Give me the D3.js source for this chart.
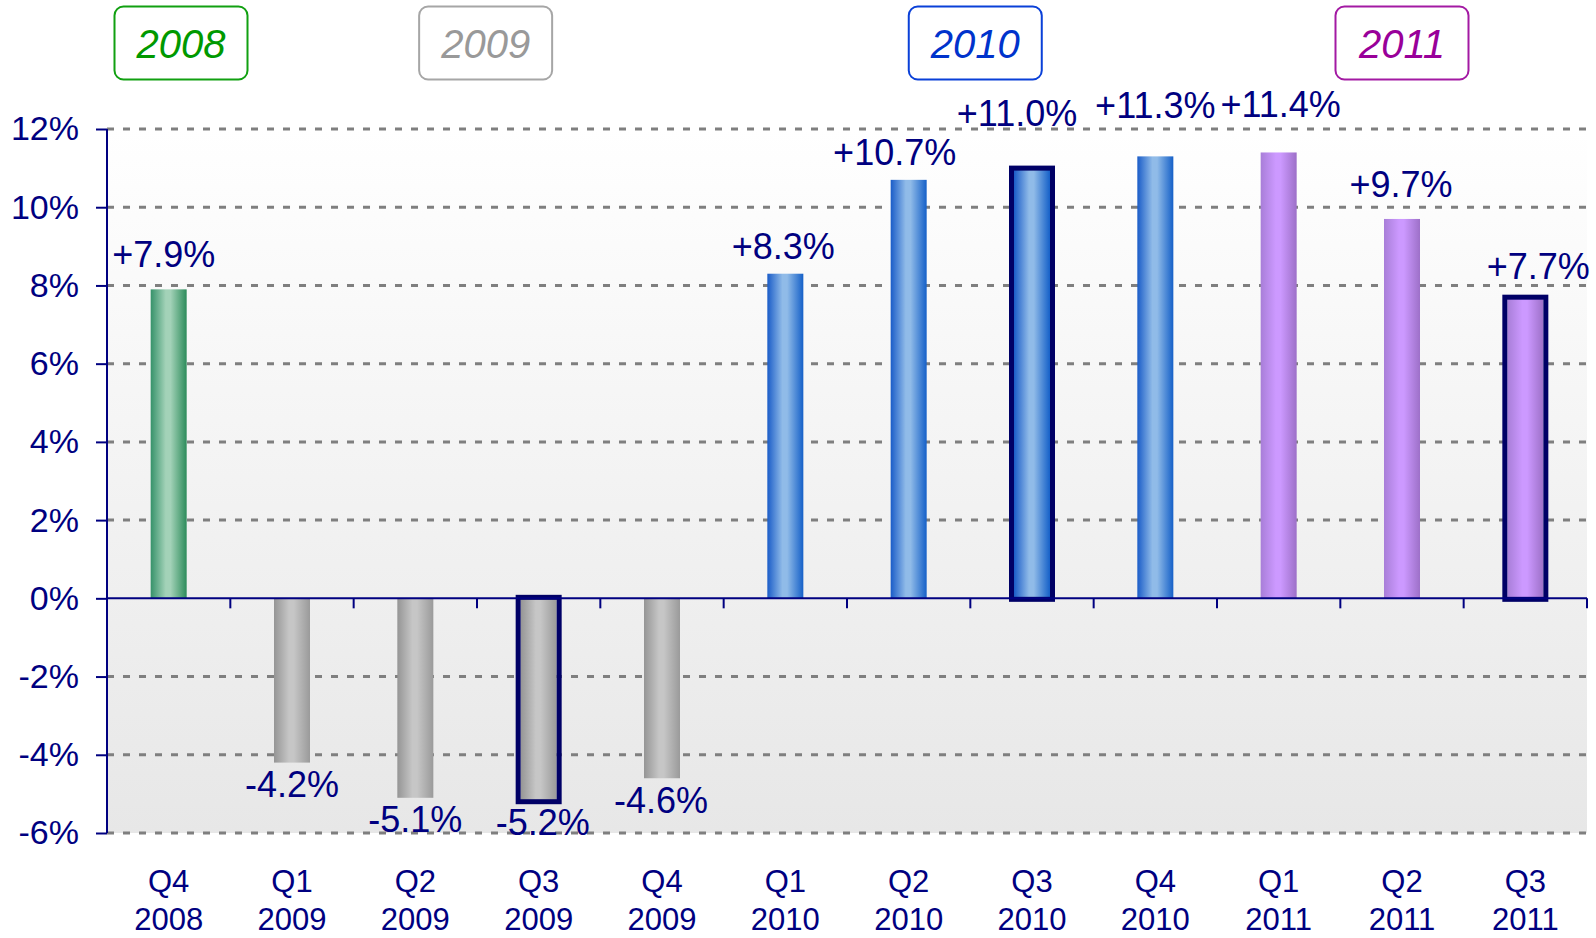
<!DOCTYPE html>
<html>
<head>
<meta charset="utf-8">
<script src="https://cdn.jsdelivr.net/npm/d3@7"></script>
<style>
    body { margin: 0; background: #fff; }
    svg { display: block; font-family: "Liberation Sans", Arial, sans-serif; }
</style>
</head>
<body>
<script>
// chart data
const quarters = ["Q4", "Q1", "Q2", "Q3", "Q4", "Q1", "Q2", "Q3", "Q4", "Q1", "Q2", "Q3"];
const years = ["2008", "2009", "2009", "2009", "2009", "2010", "2010", "2010", "2010", "2011", "2011", "2011"];
const growth = [7.9, -4.2, -5.1, -5.2, -4.6, 8.3, 10.7, 11.0, 11.3, 11.4, 9.7, 7.7];
const highlighted = [3, 7, 11];
const yTicks = [-6, -4, -2, 0, 2, 4, 6, 8, 10, 12];
const yearLabels = ["2008", "2009", "2010", "2011"];

// layout tweaks (labels were placed by hand)
const yearBoxAt = [0.1, 2.57, 6.54, 10];
const labelGap = [22, 34, 34, 33, 35, 15, 15, 42, 38, 35, 22, 18];
const labelDx = [-5, 0, 0, 4, -1, -2, -14, -15, 0, 2, -1, 13];

const yearText = { "2008": "#009900", "2009": "#999999", "2010": "#0033cc", "2011": "#990099" };
const yearStroke = { "2008": "#11a011", "2009": "#a6a6a6", "2010": "#0a40d8", "2011": "#a31aa3" };
const barShades = {
    "2008": ["#36926a", "#a3d2b8", "#2d8c5b"],
    "2009": ["#959595", "#c6c6c6", "#9a9a9a"],
    "2010": ["#1a5cc8", "#90bbe8", "#1560c8"],
    "2011": ["#a87ed8", "#cc99ff", "#9d70c8"]
};

function renderChart() {
    let w = 1596,
        h = 938;
    let left = 107, right = 1587, top = 129, bottom = 833;
    let navy = "#000080";

    let svg = d3.select("body").append("svg")
        .attr("width", w)
        .attr("height", h);

    let defs = svg.append("defs");

    let bg = defs.append("linearGradient")
        .attr("id", "plotBg")
        .attr("x1", 0).attr("y1", 0).attr("x2", 0).attr("y2", 1);
    bg.append("stop").attr("offset", 0).attr("stop-color", "#ffffff");
    bg.append("stop").attr("offset", 0.66).attr("stop-color", "#efefef");
    bg.append("stop").attr("offset", 1).attr("stop-color", "#e7e7e7");

    Object.keys(barShades).forEach(function (y) {
        let g = defs.append("linearGradient")
            .attr("id", "bar" + y)
            .attr("x1", 0).attr("y1", 0).attr("x2", 1).attr("y2", 0);
        let c = barShades[y];
        g.append("stop").attr("offset", 0).attr("stop-color", c[0]);
        g.append("stop").attr("offset", 0.42).attr("stop-color", c[1]);
        g.append("stop").attr("offset", 0.55).attr("stop-color", c[1]);
        g.append("stop").attr("offset", 1).attr("stop-color", c[2]);
    });

    let x = d3.scaleBand()
        .domain(d3.range(growth.length))
        .range([left, right])
        .padding(0);

    let y = d3.scaleLinear()
        .domain([-6, 12])
        .range([bottom, top]);

    let bw = 36;
    let cx = function (i) { return x(i) + x.bandwidth() / 2; };

    // plot background
    svg.append("rect")
        .attr("x", left)
        .attr("y", y(12))
        .attr("width", right - left)
        .attr("height", y(-6) - y(12))
        .attr("fill", "url(#plotBg)");

    // dashed grid
    svg.append("g")
        .selectAll("line")
        .data(yTicks.filter(function (d) { return d !== 0; }))
        .enter().append("line")
        .attr("x1", left)
        .attr("x2", right)
        .attr("y1", function (d) { return y(d); })
        .attr("y2", function (d) { return y(d); })
        .attr("stroke", "#7f7f7f")
        .attr("stroke-width", 3)
        .attr("stroke-dasharray", "7,9");

    // y axis
    let yAxis = svg.append("g")
        .attr("transform", "translate(" + left + ",0)")
        .call(d3.axisLeft(y)
            .tickValues(yTicks)
            .tickSize(11)
            .tickPadding(17)
            .tickFormat(function (d) { return d + "%"; }));
    yAxis.select(".domain")
        .attr("stroke", navy)
        .attr("stroke-width", 2)
        .attr("d", "M0," + y(12) + "V" + y(-6));
    yAxis.selectAll(".tick line").attr("stroke", navy).attr("stroke-width", 2);
    yAxis.selectAll(".tick text")
        .attr("fill", navy)
        .attr("font-size", 34)
        .attr("font-family", "Liberation Sans, Arial, sans-serif");

    // bars
    svg.append("g")
        .selectAll("rect")
        .data(growth)
        .enter().append("rect")
        .attr("x", function (d, i) { return cx(i) - bw / 2; })
        .attr("y", function (d) { return y(Math.max(0, d)); })
        .attr("width", bw)
        .attr("height", function (d) { return Math.abs(y(d) - y(0)); })
        .attr("fill", function (d, i) { return "url(#bar" + years[i] + ")"; });

    // highlighted frames, they run a little past the zero line
    svg.append("g")
        .selectAll("rect")
        .data(highlighted)
        .enter().append("rect")
        .attr("x", function (i) { return cx(i) - (bw + 5) / 2; })
        .attr("y", function (i) { return growth[i] >= 0 ? y(growth[i]) : y(0) - 1; })
        .attr("width", bw + 5)
        .attr("height", function (i) { return Math.abs(y(growth[i]) - y(0)) + 1; })
        .attr("fill", "none")
        .attr("stroke", "#000066")
        .attr("stroke-width", 5);

    // zero axis with category ticks
    let xAxis = svg.append("g")
        .attr("transform", "translate(0," + y(0) + ")");
    xAxis.append("line")
        .attr("x1", left).attr("x2", right)
        .attr("stroke", navy)
        .attr("stroke-width", 2);
    xAxis.selectAll(".cut")
        .data(d3.range(1, growth.length + 1))
        .enter().append("line")
        .attr("class", "cut")
        .attr("x1", function (i) { return i < growth.length ? x(i) : right; })
        .attr("x2", function (i) { return i < growth.length ? x(i) : right; })
        .attr("y1", 0)
        .attr("y2", 10)
        .attr("stroke", navy)
        .attr("stroke-width", 2);

    // value labels
    svg.append("g")
        .selectAll("text")
        .data(growth)
        .enter().append("text")
        .attr("x", function (d, i) { return cx(i) + labelDx[i]; })
        .attr("y", function (d, i) { return d >= 0 ? y(d) - labelGap[i] : y(d) + labelGap[i]; })
        .attr("text-anchor", "middle")
        .attr("fill", navy)
        .attr("font-size", 36)
        .text(function (d) { return (d > 0 ? "+" : "") + d.toFixed(1) + "%"; });

    // category labels
    let cats = svg.append("g")
        .selectAll("text")
        .data(quarters)
        .enter().append("text")
        .attr("x", function (d, i) { return cx(i); })
        .attr("y", 892)
        .attr("text-anchor", "middle")
        .attr("fill", navy)
        .attr("font-size", 31);
    cats.append("tspan").text(function (d) { return d; });
    cats.append("tspan")
        .attr("x", function (d, i) { return cx(i); })
        .attr("dy", 38)
        .text(function (d, i) { return years[i]; });

    // year boxes
    let boxW = 133, boxH = 73;
    let boxX = d3.scaleLinear()
        .domain([0, growth.length - 1])
        .range([cx(0), cx(growth.length - 1)]);
    let boxes = svg.append("g")
        .selectAll("g")
        .data(yearLabels)
        .enter().append("g")
        .attr("transform", function (d, i) {
            return "translate(" + boxX(yearBoxAt[i]) + ",43)";
        });
    boxes.append("rect")
        .attr("x", -boxW / 2)
        .attr("y", -boxH / 2)
        .attr("width", boxW)
        .attr("height", boxH)
        .attr("rx", 9)
        .attr("fill", "#fff")
        .attr("stroke", function (d) { return yearStroke[d]; })
        .attr("stroke-width", 2);
    boxes.append("text")
        .attr("text-anchor", "middle")
        .attr("y", 15)
        .attr("font-size", 40)
        .attr("font-style", "italic")
        .attr("fill", function (d) { return yearText[d]; })
        .text(function (d) { return d; });
}

renderChart();
</script>
</body>
</html>
